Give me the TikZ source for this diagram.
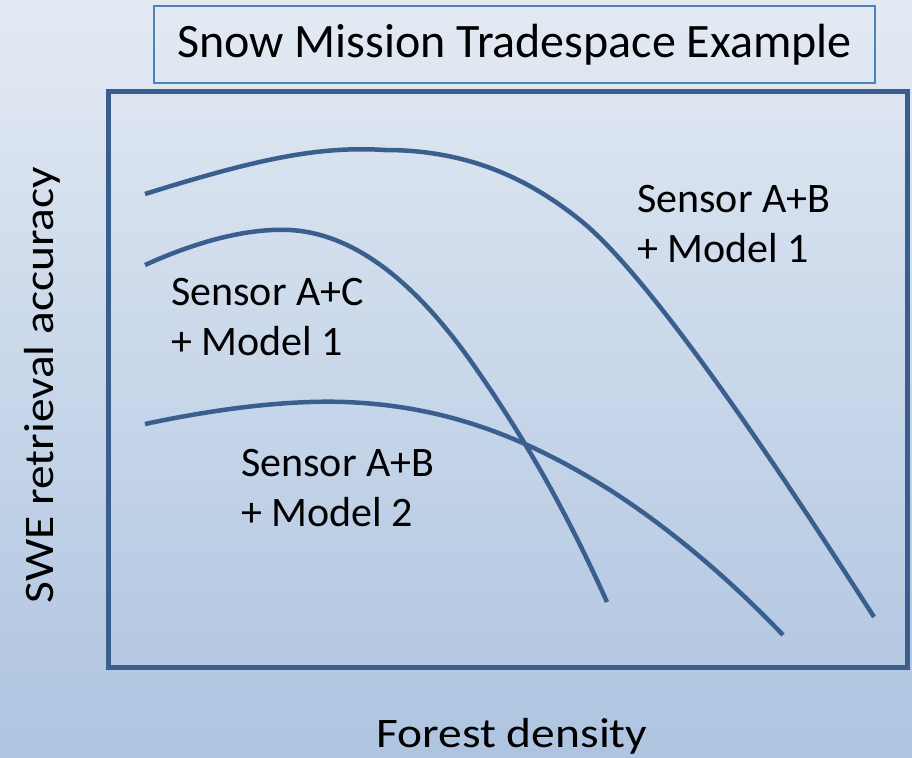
\documentclass[tikz,border=0pt]{standalone}
\usepackage{fontspec}
\setmainfont{Carlito}
\usetikzlibrary{positioning}

\definecolor{curveblue}{HTML}{3A5F8E}
\definecolor{framelineblue}{HTML}{4F81BD}
\definecolor{bgtop}{HTML}{E3EAF3}
\definecolor{bgbottom}{HTML}{AEC4E0}

\begin{document}
\begin{tikzpicture}[
    x=1pt, y=-1pt,
    curve/.style={
        draw=curveblue,
        line width=4.5pt,
        line cap=butt
    },
    label/.style={
        align=left,
        font=\fontsize{42}{50}\selectfont,
        inner sep=0pt,
        anchor=base west
    },
    axis/.style={
        font=\fontsize{42}{50}\selectfont,
        inner sep=0pt,
        anchor=base
    }
]

% Background
\shade[top color=bgtop, bottom color=bgbottom] (0,0) rectangle (912,757);
\useasboundingbox (0,0) rectangle (912,757);

% Title
\node[draw=framelineblue, line width=1.5pt, minimum width=721pt, minimum height=77pt,
      font=\fontsize{48}{52}\selectfont] (title) at (514.5,44.5) {Snow Mission Tradespace Example};

% Plot frame
\draw[draw=curveblue, line width=5pt] (108,92) rectangle (907,667);

% Curves
\draw[curve] (145,194) .. controls (260,158) and (320,146) .. (385,150)
    .. controls (470,150) and (530,180) .. (580,220)
    .. controls (660,284) and (814,524) .. (874,617);
\draw[curve] (145,265) .. controls (200,240) and (250,228) .. (290,230)
    .. controls (360,234) and (420,290) .. (470,360)
    .. controls (530,445) and (570,520) .. (607,602);
\draw[curve] (145,424) .. controls (220,408) and (290,400) .. (345,402)
    .. controls (450,406) and (530,440) .. (610,490)
    .. controls (680,535) and (740,590) .. (783,635);

% Labels (base = last line)
\node[label] (ab1) at (637,262) {Sensor A+B\\+ Model 1};
\node[label] (ac1) at (171,355) {Sensor A+C\\+ Model 1};
\node[label] (ab2) at (241,526) {Sensor A+B\\+ Model 2};

% Axis labels
\node[axis] (xlabel) at (512,747) {\scalebox{1.13}[1]{Forest density}};
\node[axis, rotate=90] (ylabel) at (53,385) {\scalebox{1.13}[1]{SWE retrieval accuracy}};

\end{tikzpicture}
\end{document}
